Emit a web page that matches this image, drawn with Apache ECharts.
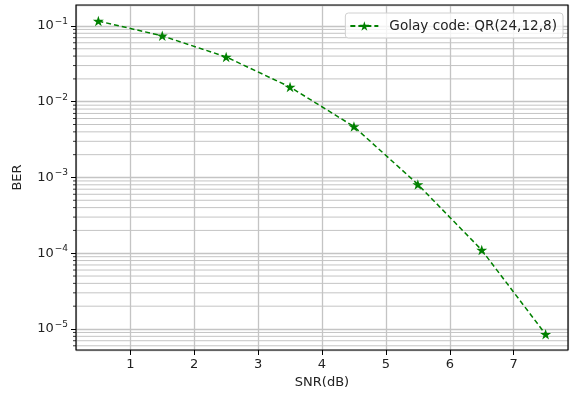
<!DOCTYPE html>
<html>
<head>
<meta charset="utf-8">
<script src="https://cdn.jsdelivr.net/npm/echarts@6/dist/echarts.min.js"></script>
<style>
	html, body { margin: 0; padding: 0; background: #fff; }
	#chart { width: 571px; height: 394px; }
</style>
</head>
<body>
<div id="chart"></div>
<script>
// values
const snr = [0.5, 1.5, 2.5, 3.5, 4.5, 5.5, 6.5, 7.5];
const ber = [0.116, 0.074, 0.039, 0.0156, 0.0047, 0.00081, 0.00011, 0.0000085];

// axis ranges (matplotlib-style 5% margins)
const X_MIN = 0.15;
const X_MAX = 7.85;
const Y_MIN = 5.28e-6;
const Y_MAX = 0.189;

// minor log grid: mantissas 2..9 of each decade
const mantissas = [2, 3, 4, 5, 6, 7, 8, 9];
const decades = [-6, -5, -4, -3, -2, -1];
const minorTicks = [];
decades.forEach((d) => {
	mantissas.forEach((m) => {
		const v = m * Math.pow(10, d);
		if (v > Y_MIN && v < Y_MAX) minorTicks.push(v);
	});
});

const GREEN = "#008000";
const GRID_GRAY = "#c4c4c4";
const FONT = "DejaVu Sans";

// five point star marker
const STAR =
	"path://M100,0L122.45,69.1L195.1,69.1L136.3,111.8L158.8,180.9L100,138.2L41.2,180.9L63.7,111.8L4.9,69.1L77.55,69.1Z";

const chart = echarts.init(document.getElementById("chart"), null, {
	renderer: "canvas",
});

chart.setOption({
	animation: false,
	textStyle: { fontFamily: FONT },
	grid: {
		left: 76,
		right: 3,
		top: 5,
		bottom: 44,
		show: true,
		z: 4,
		borderColor: "#000",
		borderWidth: 1.2,
		backgroundColor: "transparent",
	},
	legend: {
		right: 8,
		top: 13,
		padding: [6, 6, 5, 4],
		itemWidth: 28,
		itemHeight: 12,
		itemGap: 6,
		borderColor: "#d0d0d0",
		borderWidth: 1,
		borderRadius: 3,
		backgroundColor: "rgba(255,255,255,0.8)",
		textStyle: { fontFamily: FONT, fontSize: 13.6, color: "#222", padding: [0, 0, 0, 6] },
		data: ["Golay code: QR(24,12,8)"],
	},
	xAxis: {
		type: "value",
		min: X_MIN,
		max: X_MAX,
		splitNumber: 7,
		name: "SNR(dB)",
		nameLocation: "middle",
		nameGap: 26,
		nameTextStyle: { fontFamily: FONT, fontSize: 13, color: "#222" },
		axisLine: { show: false },
		axisTick: { show: true, inside: false, length: 5, lineStyle: { color: "#000" } },
		axisLabel: {
			fontFamily: FONT,
			fontSize: 13,
			color: "#222",
			margin: 8,
			showMinLabel: false,
			showMaxLabel: false,
		},
		splitLine: { show: true, lineStyle: { color: GRID_GRAY, width: 1.3 } },
	},
	yAxis: {
		type: "log",
		logBase: 10,
		min: Y_MIN,
		max: Y_MAX,
		name: "BER",
		nameLocation: "middle",
		nameGap: 52,
		nameTextStyle: { fontFamily: FONT, fontSize: 13, color: "#222" },
		axisLine: { show: false },
		axisTick: { show: true, inside: false, length: 5, lineStyle: { color: "#000" } },
		axisLabel: {
			margin: 8,
			showMinLabel: false,
			showMaxLabel: false,
			formatter: (v) => {
				const e = Math.log10(v);
				const r = Math.round(e);
				if (Math.abs(e - r) > 1e-6) return "";
				return "{b|10}{s|" + (r < 0 ? "\u2212" : "") + Math.abs(r) + "}";
			},
			rich: {
				b: { fontFamily: FONT, fontSize: 13, color: "#222", lineHeight: 14 },
				s: { fontFamily: FONT, fontSize: 9, color: "#222", padding: [0, 0, 9, 1] },
			},
		},
		splitLine: { show: true, lineStyle: { color: GRID_GRAY, width: 1.3 } },
	},
	series: [
		{
			// minor log grid lines + minor ticks on the left spine
			type: "custom",
			silent: true,
			z: 1,
			clip: false,
			data: minorTicks.map((v) => [X_MIN, v]),
			renderItem: (params, api) => {
				const v = api.value(1);
				const p0 = api.coord([X_MIN, v]);
				const p1 = api.coord([X_MAX, v]);
				return {
					type: "group",
					children: [
						{
							type: "line",
							shape: { x1: p0[0], y1: p0[1], x2: p1[0], y2: p1[1] },
							style: { stroke: GRID_GRAY, lineWidth: 1 },
						},
						{
							type: "line",
							shape: { x1: p0[0] - 3, y1: p0[1], x2: p0[0], y2: p0[1] },
							style: { stroke: "#000", lineWidth: 0.8 },
						},
					],
				};
			},
		},
		{
			name: "Golay code: QR(24,12,8)",
			type: "line",
			z: 5,
			data: snr.map((x, i) => [x, ber[i]]),
			symbol: STAR,
			symbolKeepAspect: true,
			symbolSize: 11,
			itemStyle: { color: GREEN },
			lineStyle: { color: GREEN, width: 1.5, type: [5, 3] },
		},
	],
});
</script>
</body>
</html>
